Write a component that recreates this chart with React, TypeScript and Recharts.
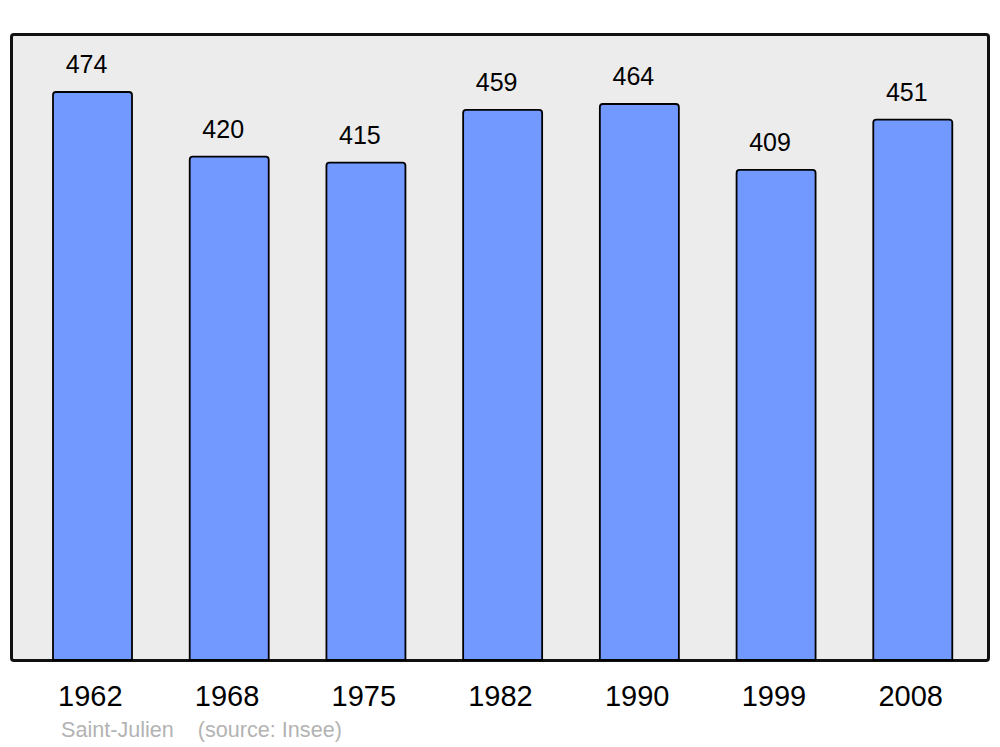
import React from 'react';
import { BarChart, Bar, XAxis, YAxis, LabelList } from 'recharts';

const years = ['1962', '1968', '1975', '1982', '1990', '1999', '2008'];
const population = [474, 420, 415, 459, 464, 409, 451];
const yMax = 522.4;

const data = years.map((year, i) => ({ year, value: population[i] }));

const FONT = '"Liberation Sans", Arial, sans-serif';

export default function App() {
  return (
    <div style={{ position: 'absolute', left: 0, top: 0, width: 1000, height: 747, background: '#fff', fontFamily: FONT }}>
      <div
        style={{
          position: 'absolute',
          left: 10,
          top: 33,
          width: 980,
          height: 628.5,
          boxSizing: 'border-box',
          border: '3px solid #111',
          borderRadius: 4,
          background: '#ececec',
        }}
      />
      <div style={{ position: 'absolute', left: 0, top: 0 }}>
        <BarChart
          width={1000}
          height={747}
          data={data}
          margin={{ top: 34, right: 19, bottom: 47, left: 24 }}
          barCategoryGap={0}
        >
          <XAxis
            dataKey="year"
            height={40}
            axisLine={false}
            tickLine={false}
            tickMargin={19}
            interval={0}
            tick={{ fontSize: 29, fill: '#000', fontFamily: FONT, dx: -2 }}
          />
          <YAxis hide domain={[0, yMax]} />
          <Bar
            dataKey="value"
            fill="#7299ff"
            stroke="#000"
            strokeWidth={1.8}
            barSize={79}
            radius={[3, 3, 0, 0]}
            isAnimationActive={false}
          >
            <LabelList
              dataKey="value"
              position="top"
              offset={19}
              dx={-6}
              style={{ fontSize: 25, fill: '#000', fontFamily: FONT }}
            />
          </Bar>
        </BarChart>
      </div>
      <div
        style={{
          position: 'absolute',
          left: 61,
          top: 719,
          fontSize: 21.6,
          lineHeight: '21px',
          color: '#b3b3b3',
          whiteSpace: 'pre',
          fontFamily: FONT,
        }}
      >
        {'Saint-Julien    (source: Insee)'}
      </div>
    </div>
  );
}
